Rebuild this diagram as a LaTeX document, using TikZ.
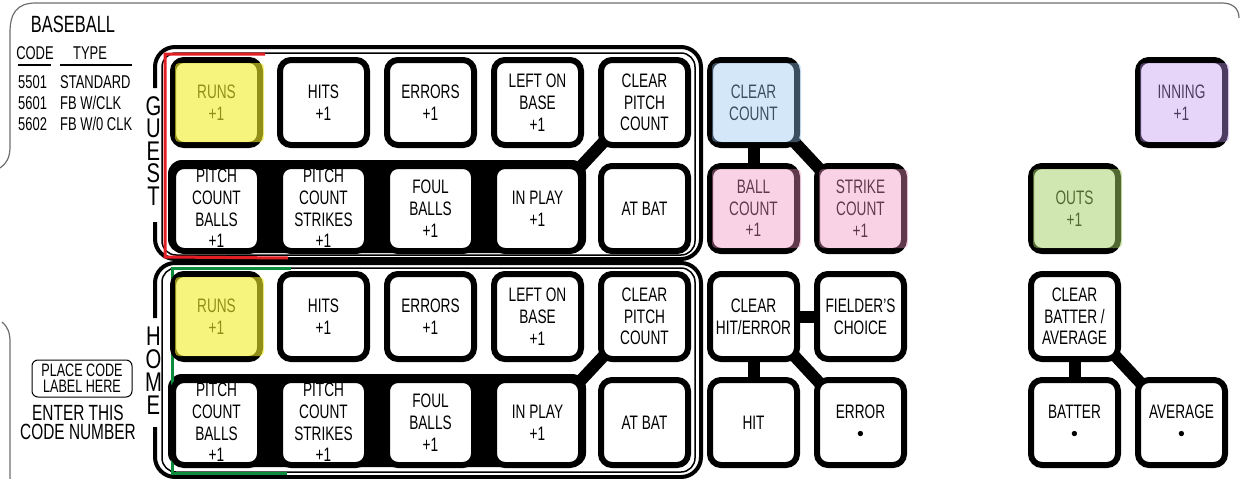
\documentclass[tikz,border=0pt]{standalone}
\usepackage{fontspec}
\setmainfont{Liberation Sans}[FakeStretch=0.7]
\newfontfamily\dotfont{Liberation Sans}
\newfontfamily\teamfont{Liberation Sans}[FakeStretch=0.75]
\usetikzlibrary{backgrounds}

\definecolor{runsyel}{RGB}{241,238,37}
\definecolor{clrblue}{RGB}{147,197,242}
\definecolor{cntpink}{RGB}{240,147,192}
\definecolor{outgreen}{RGB}{165,209,101}
\definecolor{innlav}{RGB}{197,152,242}
\definecolor{guestred}{RGB}{227,30,36}
\definecolor{homegreen}{RGB}{10,140,60}
\definecolor{framegray}{RGB}{110,110,110}

\tikzset{
  keybtn/.style={draw, line width=6pt, fill=white, rounded corners=11pt,
    minimum width=87pt, minimum height=85pt, inner sep=0pt, align=center,
    font=\fontsize{19.5}{21.7}\selectfont},
  linkbar/.style={line width=12pt, shorten <=-8pt, shorten >=-8pt},
  legtext/.style={inner sep=0pt, text height=13pt, text depth=0pt,
    font=\fontsize{18.5}{20}\selectfont},
  teamltr/.style={inner sep=0pt, text height=19pt, text depth=0pt,
    font=\teamfont\fontsize{27}{27}\selectfont},
  groupline/.style={line width=4pt, rounded corners=20pt},
  groupthin/.style={line width=1.5pt, rounded corners=14pt},
  marker/.style={line width=3pt}
}
\newcommand\tintkey[3]{\fill[#2, fill opacity=#3, rounded corners=4pt]
  ([shift={(5,6)}]#1.north west) rectangle ([shift={(1,-6)}]#1.south east);}
\newcommand\bdot{{\dotfont\textbullet}}

\begin{document}
\begin{tikzpicture}[x=1pt,y=-1pt]
\useasboundingbox (0,0) rectangle (1240,479);

% outer frame
\draw[framegray, line width=1.2pt] (0,168) .. controls (8,162) and (10,156) .. (10,146)
  -- (10,33) .. controls (10,14) and (16,3) .. (36,3) -- (1222,3)
  .. controls (1232,3) and (1239,8) .. (1239,18);
\draw[framegray, line width=1.2pt] (2,322) .. controls (8,327) and (10,333) .. (10,342) -- (10,479);

% legend
\node[inner sep=0pt, font=\fontsize{23.5}{24}\selectfont] (sport) at (73,24) {BASEBALL};
\node[legtext] (codehd) at (35,53) {CODE};
\node[legtext] (typehd) at (90,53) {TYPE};
\draw[line width=2pt] (18,65) -- (51,65);
\draw[line width=2pt] (60,65) -- (132,65);
\node[legtext, anchor=west] (code1) at (18,82) {5501};
\node[legtext, anchor=west] (type1) at (60,82) {STANDARD};
\node[legtext, anchor=west] (code2) at (18,103) {5601};
\node[legtext, anchor=west] (type2) at (60,103) {FB W/CLK};
\node[legtext, anchor=west] (code3) at (18,123.5) {5602};
\node[legtext, anchor=west] (type3) at (60,123.5) {FB W/0 CLK};

\node[draw, line width=1pt, rounded corners=6pt, minimum width=100pt, minimum height=37pt,
  inner sep=0pt, align=center, font=\fontsize{18}{16}\selectfont] (codelabel) at (82,378.5)
  {PLACE CODE\\LABEL HERE};
\node[inner sep=0pt, align=center, font=\fontsize{22}{19.3}\selectfont] (enter) at (78,422.5)
  {ENTER THIS\\CODE NUMBER};

% team groups
\draw[groupline] (155,88) -- (155,47) -- (701,47) -- (701,259) -- (155,259) -- (155,222);
\draw[groupthin] (162,53) rectangle (695,255);
\draw[groupline] (155,318) -- (155,263) -- (701,263) -- (701,477) -- (155,477) -- (155,427);
\draw[groupthin] (162,268) rectangle (695,472);
\node[teamltr] (guest1) at (153.5,105.5) {G};
\node[teamltr] (guest2) at (153.5,128) {U};
\node[teamltr] (guest3) at (153.5,150.5) {E};
\node[teamltr] (guest4) at (153.5,173) {S};
\node[teamltr] (guest5) at (153.5,195.5) {T};
\node[teamltr] (home1) at (153.5,336) {H};
\node[teamltr] (home2) at (153.5,359) {O};
\node[teamltr] (home3) at (153.5,382) {M};
\node[teamltr] (home4) at (153.5,405) {E};
\draw[guestred, marker] (265,54) -- (165,54) -- (165,257) -- (288,258);
\draw[homegreen, marker] (291,268) -- (172,268) -- (172,473) -- (287,473);

% guest keys
\node[keybtn] (gruns) at (216.5,102.5) {RUNS\\+1};
\node[keybtn] (ghits) at (323.5,102.5) {HITS\\+1};
\node[keybtn] (gerrs) at (430.5,102.5) {ERRORS\\+1};
\node[keybtn] (glob) at (537.5,102.5) {LEFT ON\\BASE\\+1};
\node[keybtn] (gclrpc) at (644.5,102.5) {CLEAR\\PITCH\\COUNT};
\node[keybtn] (gpcball) at (216.5,208.5) {PITCH\\COUNT\\BALLS\\+1};
\node[keybtn] (gpcstrk) at (323.5,208.5) {PITCH\\COUNT\\STRIKES\\+1};
\node[keybtn] (gfoul) at (430.5,208.5) {FOUL\\BALLS\\+1};
\node[keybtn] (gplay) at (537.5,208.5) {IN PLAY\\+1};
\node[keybtn] (gatbat) at (644.5,208.5) {AT BAT};

% home keys
\node[keybtn] (hruns) at (216.5,316.5) {RUNS\\+1};
\node[keybtn] (hhits) at (323.5,316.5) {HITS\\+1};
\node[keybtn] (herrs) at (430.5,316.5) {ERRORS\\+1};
\node[keybtn] (hlob) at (537.5,316.5) {LEFT ON\\BASE\\+1};
\node[keybtn] (hclrpc) at (644.5,316.5) {CLEAR\\PITCH\\COUNT};
\node[keybtn] (hpcball) at (216.5,422.5) {PITCH\\COUNT\\BALLS\\+1};
\node[keybtn] (hpcstrk) at (323.5,422.5) {PITCH\\COUNT\\STRIKES\\+1};
\node[keybtn] (hfoul) at (430.5,422.5) {FOUL\\BALLS\\+1};
\node[keybtn] (hplay) at (537.5,422.5) {IN PLAY\\+1};
\node[keybtn] (hatbat) at (644.5,422.5) {AT BAT};

% count and play keys
\node[keybtn] (clrcnt) at (753.5,102.5) {CLEAR\\COUNT};
\node[keybtn] (ballcnt) at (753.5,208.5) {BALL\\COUNT\\+1};
\node[keybtn] (strkcnt) at (860.5,208.5) {STRIKE\\COUNT\\+1};
\node[keybtn] (clrhit) at (753.5,316.5) {CLEAR\\HIT/ERROR};
\node[keybtn] (fielder) at (860.5,316.5) {FIELDER'S\\CHOICE};
\node[keybtn] (hit) at (753.5,422.5) {HIT};
\node[keybtn] (error) at (860.5,422.5) {ERROR\\\bdot};

% batter and inning keys
\node[keybtn] (inning) at (1181.5,102.5) {INNING\\+1};
\node[keybtn] (outs) at (1074.5,208.5) {OUTS\\+1};
\node[keybtn] (clrbat) at (1074.5,316.5) {CLEAR\\BATTER /\\AVERAGE};
\node[keybtn] (batter) at (1074.5,422.5) {BATTER\\\bdot};
\node[keybtn] (average) at (1181.5,422.5) {AVERAGE\\\bdot};

% coloured keys
\tintkey{gruns}{runsyel}{0.6}
\tintkey{hruns}{runsyel}{0.6}
\tintkey{clrcnt}{clrblue}{0.4}
\tintkey{ballcnt}{cntpink}{0.4}
\tintkey{strkcnt}{cntpink}{0.4}
\tintkey{outs}{outgreen}{0.5}
\tintkey{inning}{innlav}{0.4}

\begin{scope}[on background layer]
% black bands behind the pitch rows
\fill[rounded corners=14pt] ([shift={(-2,-3)}]gpcball.north west) rectangle ([shift={(2,-1)}]gplay.south east);
\fill[rounded corners=14pt] ([shift={(-2,-3)}]hpcball.north west) rectangle ([shift={(2,-1)}]hplay.south east);
\draw[linkbar] (gplay.north east) -- (gclrpc.south west);
\draw[linkbar] (hplay.north east) -- (hclrpc.south west);
\draw[linkbar] (clrcnt.south) -- (ballcnt.north);
\draw[linkbar] (clrcnt.south east) -- (strkcnt.north west);
\draw[linkbar] (clrhit.east) -- (fielder.west);
\draw[linkbar] (clrhit.south) -- (hit.north);
\draw[linkbar] (clrhit.south east) -- (error.north west);
\draw[linkbar] (clrbat.south) -- (batter.north);
\draw[linkbar] (clrbat.south east) -- (average.north west);
\end{scope}
\end{tikzpicture}
\end{document}
